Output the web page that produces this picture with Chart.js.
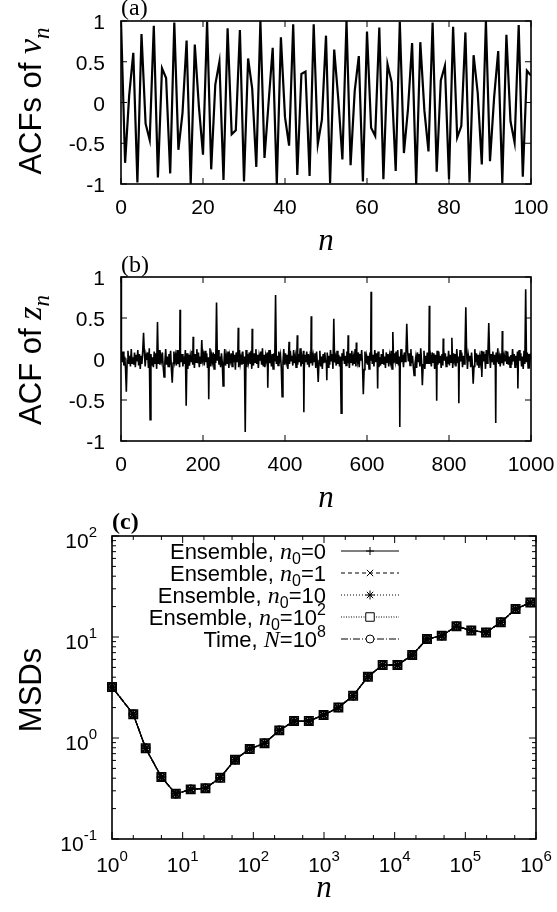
<!DOCTYPE html>
<html lang="en">
<head>
<meta charset="UTF-8">
<title>ACFs and MSDs</title>
<script src="https://cdn.jsdelivr.net/npm/chart.js"></script>
<style>
  body { margin: 0; background: #fff; }
  #wrap { position: relative; width: 557px; height: 912px; }
  #wrap canvas { position: absolute; left: 0; top: 0; }
</style>
</head>
<body>
<div id="wrap">
  <canvas id="chartA" width="557" height="912"></canvas>
  <canvas id="chartB" width="557" height="912"></canvas>
  <canvas id="chartC" width="557" height="912"></canvas>
</div>
<script>
// ---- panel (a): ACFs of v_n, lags 0..100
const acfV = [1, -0.74, 0.09, 0.61, -0.98, 0.84, -0.26, -0.46, 0.94, -0.92,
  0.42, 0.30, -0.87, 0.98, -0.58, -0.13, 0.76, -1.00, 0.71, -0.05,
  -0.64, 0.99, -0.82, 0.22, 0.50, -0.95, 0.91, -0.39, -0.34, 0.89,
  -0.97, 0.54, 0.17, -0.79, 1.00, -0.68, 0.00, 0.67, -1.00, 0.80,
  -0.18, -0.53, 0.96, -0.89, 0.35, 0.38, -0.90, 0.96, -0.51, -0.21,
  0.82, -0.99, 0.65, 0.04, -0.70, 1.00, -0.77, 0.14, 0.57, -0.97,
  0.87, -0.31, -0.41, 0.92, -0.94, 0.47, 0.25, -0.84, 0.99, -0.62,
  -0.08, 0.73, -1.00, 0.74, -0.10, -0.60, 0.98, -0.85, 0.27, 0.45,
  -0.94, 0.93, -0.43, -0.29, 0.86, -0.98, 0.58, 0.12, -0.76, 1.00,
  -0.72, 0.06, 0.63, -0.99, 0.83, -0.23, -0.49, 0.95, -0.91, 0.39, 0.33];
const acfLag = acfV.map((_, i) => i);

// ---- panel (b): ACF of z_n, background noise at odd lags + spikes
const zNoise = [
  .06,-.04,.09,-.08,.03,-.11,.07,-.02,.10,-.06,.04,-.09,.12,-.05,.02,-.07,.08,-.10,.05,-.03,.11,-.08,.06,-.12,.04,
  -.06,.10,-.03,.07,-.09,.05,-.01,.08,-.11,.13,-.04,.06,-.08,.02,-.10,.09,-.05,.07,-.12,.03,-.06,.11,-.07,.04,-.02,
  .08,-.10,.05,-.04,.12,-.07,.03,-.09,.06,-.02,.10,-.13,.07,-.05,.09,-.03,.04,-.08,.11,-.06,.02,-.10,.08,-.04,.06,
  -.09,.03,-.06,.11,-.02,.07,-.12,.05,-.08,.04,-.03,.10,-.07,.09,-.11,.06,-.04,.12,-.05,.08,-.10,.03,-.06,.09,-.01,
  .05,-.08,.10,-.04,.07,-.11,.02,-.06,.13,-.09,.04,-.03,.08,-.12,.06,-.05,.09,-.02,.11,-.07,.03,-.10,.07,-.04,.08,
  -.05,.12,-.08,.03,-.06,.09,-.11,.04,-.02,.07,-.09,.10,-.04,.05,-.13,.08,-.03,.06,-.10,.11,-.05,.02,-.07,.09,-.06,
  .03,-.07,.11,-.10,.06,-.03,.08,-.05,.10,-.12,.02,-.08,.07,-.04,.12,-.06,.05,-.11,.04,-.02,.09,-.07,.13,-.09,.05,
  -.10,.04,-.02,.08,-.07,.11,-.05,.03,-.09,.06,-.12,.07,-.03,.10,-.06,.04,-.08,.09,-.01,.05,-.11,.08,-.04,.12,-.07,
  .07,-.03,.05,-.12,.09,-.06,.10,-.02,.04,-.08,.11,-.05,.03,-.10,.08,-.07,.06,-.04,.13,-.09,.02,-.06,.10,-.11,.05,
  -.04,.09,-.07,.06,-.10,.02,-.05,.12,-.08,.04,-.03,.07,-.11,.09,-.06,.05,-.02,.10,-.09,.03,-.12,.06,-.05,.08,-.03,
  -.05,.08,-.10,.04,-.07,.11,-.03,.06,-.12,.09,-.04,.02,-.08,.10,-.06,.05,-.09,.03,-.11,.07,-.02,.12,-.06,.04,-.08,
  .09,-.05,.03,-.11,.07,-.04,.10,-.08,.02,-.06,.12,-.09,.05,-.03,.08,-.10,.06,-.02,.11,-.07,.04,-.13,.09,-.05,.03,
  -.07,.04,-.12,.08,-.02,.10,-.06,.05,-.09,.11,-.04,.07,-.03,.09,-.10,.02,-.08,.06,-.05,.12,-.07,.03,-.11,.08,-.04,
  .06,-.09,.04,-.03,.10,-.12,.08,-.05,.07,-.02,.09,-.06,.11,-.08,.03,-.07,.12,-.04,.05,-.10,.08,-.03,.06,-.09,.10,
  -.03,.07,-.08,.12,-.05,.04,-.10,.09,-.06,.02,-.11,.08,-.04,.06,-.09,.13,-.02,.05,-.07,.10,-.12,.04,-.06,.08,-.05,
  .11,-.06,.02,-.09,.08,-.04,.07,-.12,.05,-.03,.10,-.07,.09,-.05,.04,-.11,.06,-.08,.12,-.02,.07,-.09,.03,-.06,.10,
  -.08,.05,-.04,.10,-.11,.07,-.02,.06,-.09,.12,-.05,.03,-.07,.11,-.03,.08,-.10,.04,-.06,.09,-.04,.07,-.12,.05,-.02,
  .04,-.10,.08,-.06,.03,-.09,.12,-.04,.07,-.08,.05,-.11,.02,-.05,.10,-.07,.09,-.03,.06,-.12,.11,-.05,.08,-.04,.06,
  -.11,.06,-.03,.09,-.07,.05,-.10,.08,-.04,.13,-.06,.02,-.09,.07,-.05,.11,-.08,.04,-.02,.10,-.06,.09,-.07,.03,-.10,
  .05,-.07,.12,-.03,.06,-.10,.04,-.08,.09,-.05,.11,-.02,.07,-.09,.03,-.12,.10,-.06,.05,-.04,.08,-.11,.06,-.03,.07];
const zSpikeLag = [0, 13, 55, 71, 89, 105, 125, 144, 159, 176, 197, 214, 233, 249, 286,
  303, 320, 358, 377, 393, 410, 430, 446, 464, 481, 502, 519, 537, 554, 574, 591, 610,
  626, 663, 680, 697, 715, 735, 752, 770, 786, 807, 824, 841, 859, 880, 897, 914, 930, 968, 987];
const zSpikeVal = [1, -0.40, 0.32, -0.74, 0.45, -0.22, -0.29, 0.60, -0.57, 0.27, 0.23, -0.49, 0.69, -0.33, 0.38,
  -0.89, 0.37, -0.35, 0.78, -0.46, 0.21, 0.29, -0.65, 0.52, -0.28, -0.26, 0.49, -0.66, 0.29, 0.20, -0.43, 0.82,
  -0.36, 0.33, -0.83, 0.43, -0.20, -0.32, 0.65, -0.51, 0.25, 0.26, -0.54, 0.63, -0.30, -0.22, 0.44, -0.78, 0.34, -0.36, 0.85];

// ---- panel (c): MSDs, all five estimates coincide
const msdN = [1, 2, 3, 5, 8, 13, 21, 34, 55, 89, 144, 233, 377, 610, 987, 1597, 2584, 4181,
  6765, 10946, 17711, 28657, 46368, 75025, 121393, 196418, 317811, 514229, 832040];
const msd = [3.2, 1.72, 0.79, 0.41, 0.28, 0.31, 0.318, 0.405, 0.61, 0.78, 0.885, 1.19, 1.47, 1.47,
  1.69, 2.0, 2.62, 4.05, 5.28, 5.28, 6.63, 9.55, 10.3, 12.8, 11.6, 11.1, 14.0, 18.9, 21.9];
// legend text pieces: [plain, italic symbol, subscript, plain, superscript]
const msdLegend = [
  ['Ensemble, ', 'n', '0', '=0', ''],
  ['Ensemble, ', 'n', '0', '=1', ''],
  ['Ensemble, ', 'n', '0', '=10', ''],
  ['Ensemble, ', 'n', '0', '=10', '2'],
  ['Time, ', 'N', '', '=10', '8']
];

const SANS = "'Liberation Sans', Arial, sans-serif";
const SERIF = "'Liberation Serif', 'Times New Roman', serif";
const font = (px, fam, style) => (style ? style + ' ' : '') + px + 'px ' + fam;
Chart.defaults.color = '#000';

function richText(ctx, segs, x, y, align) {
  let w = 0;
  segs.forEach(s => { ctx.font = s.f; w += ctx.measureText(s.t).width; });
  let cx = align === 'right' ? x - w : align === 'center' ? x - w / 2 : x;
  ctx.textAlign = 'left';
  ctx.textBaseline = 'alphabetic';
  segs.forEach(s => {
    ctx.font = s.f;
    ctx.fillText(s.t, cx, y + (s.dy || 0));
    cx += ctx.measureText(s.t).width;
  });
}

function logTicks(scale, minors) {
  const out = [];
  const d0 = Math.round(Math.log10(scale.min)), d1 = Math.round(Math.log10(scale.max));
  for (let d = d0; d <= d1; d++) {
    const b = Math.pow(10, d);
    out.push([b, true, d]);
    if (d < d1) minors.forEach(m => out.push([m * b, false, d]));
  }
  return out;
}

// frame, mirrored inward ticks, tick labels, titles and tags
const deco = {
  id: 'deco',
  afterDraw(chart, args, o) {
    const ctx = chart.ctx, a = chart.chartArea, sx = chart.scales.x, sy = chart.scales.y;
    ctx.save();
    ctx.fillStyle = '#000';
    ctx.strokeStyle = '#000';
    ctx.setLineDash([]);
    ctx.lineWidth = 1.6;
    ctx.strokeRect(a.left, a.top, a.right - a.left, a.bottom - a.top);
    ctx.lineWidth = 1;
    ctx.beginPath();
    const tx = (v, L) => { const p = sx.getPixelForValue(v); ctx.moveTo(p, a.bottom); ctx.lineTo(p, a.bottom - L); ctx.moveTo(p, a.top); ctx.lineTo(p, a.top + L); };
    const ty = (v, L) => { const p = sy.getPixelForValue(v); ctx.moveTo(a.left, p); ctx.lineTo(a.left + L, p); ctx.moveTo(a.right, p); ctx.lineTo(a.right - L, p); };
    if (o.log) {
      logTicks(sx, [2, 5]).forEach(t => tx(t[0], t[1] ? 7 : 4));
      logTicks(sy, [2, 3, 4, 5, 6, 7, 8, 9]).forEach(t => ty(t[0], t[1] ? 7 : 4));
    } else {
      sx.ticks.forEach(t => tx(t.value, 6));
      sy.ticks.forEach(t => ty(t.value, 6));
    }
    ctx.stroke();

    const lab = font(21, SANS), sup = font(15, SANS);
    if (o.log) {
      logTicks(sx, []).forEach(t => {
        richText(ctx, [{t: '10', f: lab}, {t: String(t[2]), f: sup, dy: -11}],
          sx.getPixelForValue(t[0]), a.bottom + 33, 'center');
      });
      logTicks(sy, []).forEach(t => {
        richText(ctx, [{t: '10', f: lab}, {t: String(t[2]), f: sup, dy: -11}],
          a.left - 15, sy.getPixelForValue(t[0]) + 12, 'right');
      });
    } else {
      sx.ticks.forEach(t => richText(ctx, [{t: String(t.value), f: lab}], sx.getPixelForValue(t.value), a.bottom + 30, 'center'));
      sy.ticks.forEach(t => richText(ctx, [{t: String(t.value), f: lab}], a.left - 16, sy.getPixelForValue(t.value) + 8, 'right'));
    }

    // panel tag
    ctx.font = o.tagFont;
    ctx.textAlign = 'left';
    ctx.textBaseline = 'middle';
    ctx.fillText(o.tag, o.tagX, o.tagY);

    // x title
    ctx.font = font(31, SERIF, 'italic');
    ctx.textAlign = 'center';
    ctx.textBaseline = 'alphabetic';
    ctx.fillText('n', (a.left + a.right) / 2, o.xTitleY);

    // y title, rotated
    ctx.save();
    ctx.translate(o.yTitleX, o.yTitleY);
    ctx.rotate(-Math.PI / 2);
    richText(ctx, o.yTitle, 0, 10, 'center');
    ctx.restore();

    // legend
    if (o.legend) {
      chart.data.datasets.forEach((ds, i) => {
        const y = o.legendY + i * 22;
        const r = msdLegend[i];
        const segs = [{t: r[0], f: font(22, SANS)}, {t: r[1], f: font(24, SERIF, 'italic')}];
        if (r[2]) segs.push({t: r[2], f: font(16, SANS), dy: 5});
        segs.push({t: r[3], f: font(22, SANS)});
        if (r[4]) segs.push({t: r[4], f: font(16, SANS), dy: -10});
        richText(ctx, segs, o.legendTextRight, y + 8, 'right');
        ctx.lineWidth = 1;
        ctx.setLineDash(ds.borderDash || []);
        ctx.beginPath();
        ctx.moveTo(o.legendLine[0], y);
        ctx.lineTo(o.legendLine[1], y);
        ctx.stroke();
        ctx.setLineDash([]);
        ctx.fillStyle = '#fff';
        Chart.helpers.drawPoint(ctx, {pointStyle: ds.pointStyle, radius: ds.pointRadius, borderWidth: 1, rotation: 0},
          (o.legendLine[0] + o.legendLine[1]) / 2, y);
        ctx.fillStyle = '#000';
      });
    }
    ctx.restore();
  }
};

function acfScales(xMax, xStep) {
  return {
    x: {
      type: 'linear', min: 0, max: xMax,
      afterFit: s => { s.height = 0; },
      grid: {display: false}, border: {display: false},
      ticks: {stepSize: xStep, autoSkip: false, display: false}
    },
    y: {
      min: -1, max: 1,
      afterFit: s => { s.width = 0; },
      grid: {display: false}, border: {display: false},
      ticks: {stepSize: 0.5, display: false}
    }
  };
}

const yTitleSegs = (head, sym) => [
  {t: head, f: font(31, SANS)},
  {t: sym, f: font(34, SERIF, 'italic')},
  {t: 'n', f: font(23, SERIF, 'italic'), dy: 8}
];

new Chart(document.getElementById('chartA'), {
  type: 'line',
  data: {
    datasets: [{
      data: acfLag.map((n, i) => ({x: n, y: acfV[i]})),
      borderColor: '#000', borderWidth: 2.2, pointRadius: 0, tension: 0
    }]
  },
  options: {
    responsive: false, animation: false, events: [],
    layout: {padding: {left: 121, top: 21, right: 26, bottom: 912 - 184}},
    plugins: {
      legend: {display: false}, tooltip: {enabled: false},
      deco: {
        tag: '(a)', tagX: 121, tagY: 9, tagFont: font(24, SERIF),
        xTitleY: 250, yTitleX: 31, yTitleY: 101, yTitle: yTitleSegs('ACFs of ', 'ν')
      }
    },
    scales: acfScales(100, 20)
  },
  plugins: [deco]
});

const zPts = zNoise.map((v, i) => ({x: 1 + 2 * i, y: v}));
zSpikeLag.forEach((n, i) => {
  const hit = zPts.find(p => p.x === n);
  if (hit) hit.y = zSpikeVal[i]; else zPts.push({x: n, y: zSpikeVal[i]});
});
zPts.sort((p, q) => p.x - q.x);

new Chart(document.getElementById('chartB'), {
  type: 'line',
  data: {
    datasets: [{data: zPts, borderColor: '#000', borderWidth: 1.6, pointRadius: 0, tension: 0}]
  },
  options: {
    responsive: false, animation: false, events: [],
    layout: {padding: {left: 121, top: 277, right: 26, bottom: 912 - 441}},
    plugins: {
      legend: {display: false}, tooltip: {enabled: false},
      deco: {
        tag: '(b)', tagX: 121, tagY: 266, tagFont: font(24, SERIF),
        xTitleY: 507, yTitleX: 31, yTitleY: 360, yTitle: yTitleSegs('ACF of ', 'z')
      }
    },
    scales: acfScales(1000, 200)
  },
  plugins: [deco]
});

const msdStyles = [
  {dash: [], point: 'cross', r: 4},
  {dash: [4, 3], point: 'crossRot', r: 4.5},
  {dash: [1, 2], point: 'star', r: 4.5},
  {dash: [1, 1.5], point: 'rect', r: 6},
  {dash: [7, 2, 1, 2], point: 'circle', r: 4}
];

new Chart(document.getElementById('chartC'), {
  type: 'line',
  data: {
    datasets: msdStyles.map(s => ({
      data: msdN.map((n, i) => ({x: n, y: msd[i]})),
      borderColor: '#000', borderWidth: 1.3, borderDash: s.dash, tension: 0,
      pointStyle: s.point, pointRadius: s.r, pointBorderWidth: 1.5,
      pointBorderColor: '#000', pointBackgroundColor: 'rgba(0,0,0,0)', clip: false
    }))
  },
  options: {
    responsive: false, animation: false, events: [],
    layout: {padding: {left: 112, top: 536, right: 557 - 536, bottom: 912 - 839}},
    plugins: {
      legend: {display: false}, tooltip: {enabled: false},
      deco: {
        log: true,
        tag: '(c)', tagX: 112, tagY: 523, tagFont: font(24, SERIF, 'bold'),
        xTitleY: 897, yTitleX: 31, yTitleY: 690,
        yTitle: [{t: 'MSDs', f: font(31, SANS)}],
        legend: true, legendY: 551, legendTextRight: 326, legendLine: [341, 399]
      }
    },
    scales: {
      x: {type: 'logarithmic', min: 1, max: 1e6, afterFit: s => { s.height = 0; },
        grid: {display: false}, border: {display: false}, ticks: {display: false}},
      y: {type: 'logarithmic', min: 0.1, max: 100, afterFit: s => { s.width = 0; },
        grid: {display: false}, border: {display: false}, ticks: {display: false}}
    }
  },
  plugins: [deco]
});
</script>
</body>
</html>
